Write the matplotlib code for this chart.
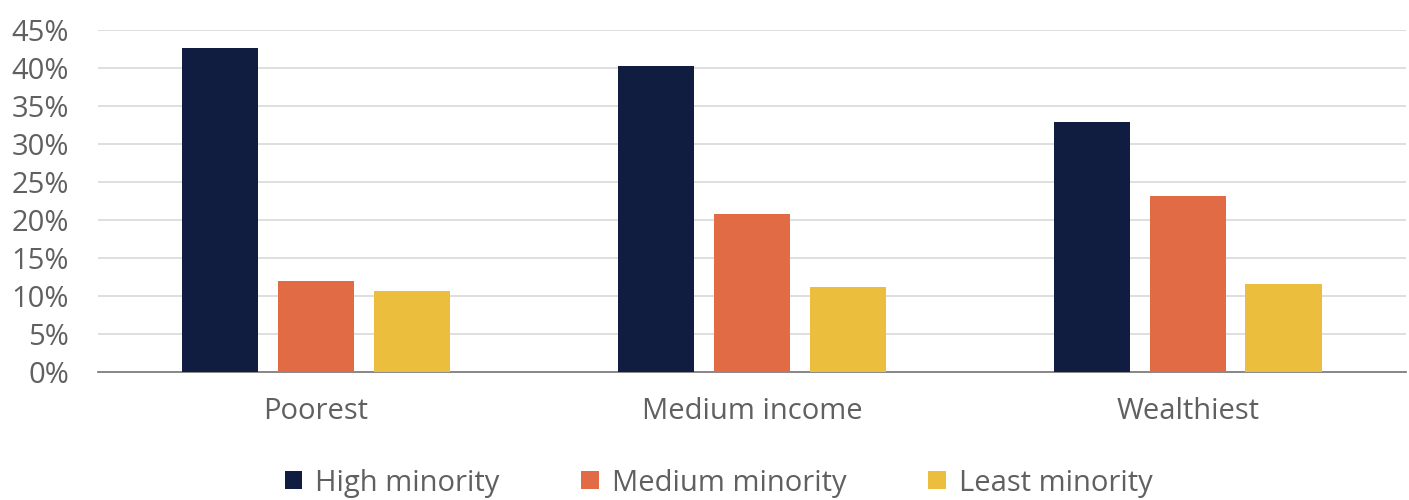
import numpy as np
import matplotlib.pyplot as plt
from matplotlib.ticker import FuncFormatter

groups = ['Poorest', 'Medium income', 'Wealthiest']
series = ['High minority', 'Medium minority', 'Least minority']
high = [42.6, 40.3, 32.9]
medium = [12.0, 20.8, 23.2]
least = [10.7, 11.2, 11.6]
colors = ['#101C40', '#E06B44', '#EBBE3D']

plt.rcParams['font.family'] = ['Open Sans', 'DejaVu Sans']
text_color = '#606060'

fig = plt.figure(figsize=(14.09, 5), dpi=100)
ax = fig.add_axes([0.0696, 0.256, 0.928, 0.684])

x = np.arange(len(groups))
w = 0.175
step = 0.22
for i, (vals, name, c) in enumerate(zip([high, medium, least], series, colors)):
    ax.bar(x + (i - 1) * step, vals, width=w, color=c, label=name, zorder=3)

ax.set_xlim(-0.5, 2.5)
ax.set_ylim(0, 45)
ax.set_yticks(np.arange(0, 46, 5))
ax.yaxis.set_major_formatter(FuncFormatter(lambda v, p: f'{v:.0f}%'))
ax.set_xticks(x)
ax.set_xticklabels(groups)
ax.grid(axis='y', color='#d9d9d9', linewidth=1.2, zorder=0)
for s in ['top', 'right', 'left']:
    ax.spines[s].set_visible(False)
ax.spines['bottom'].set_color('#7f7f7f')
ax.spines['bottom'].set_linewidth(1.3)
ax.tick_params(axis='both', length=0, labelsize=21, colors=text_color)
ax.tick_params(axis='x', pad=18)
ax.tick_params(axis='y', pad=21)

leg = fig.legend(loc='center', bbox_to_anchor=(0.51, 0.034), ncol=3, frameon=False,
                 fontsize=21, handlelength=0.6, handleheight=0.6, handletextpad=0.45,
                 columnspacing=2.8)
for t in leg.get_texts():
    t.set_color(text_color)

fig.savefig('out.png', dpi=100)
